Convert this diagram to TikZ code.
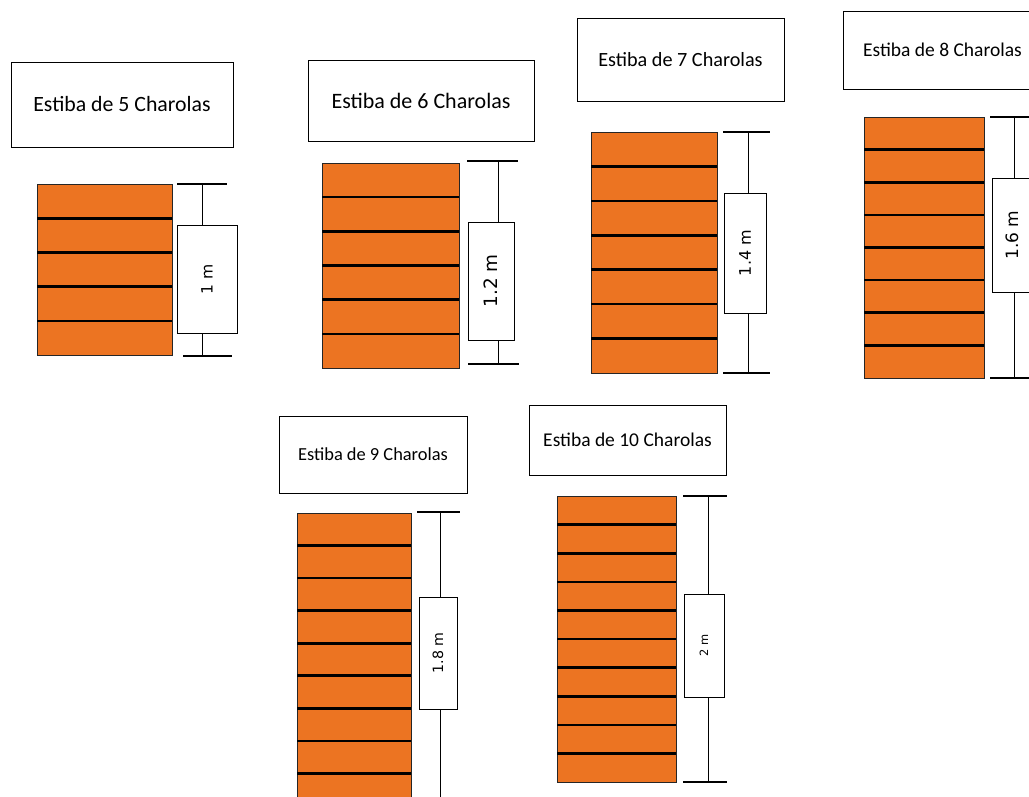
\documentclass[tikz,border=0pt]{standalone}
\usepackage{fontspec}
\newfontfamily\titlefont{Carlito}
\newfontfamily\dimfont{DejaVu Sans}
\definecolor{tray}{RGB}{236,116,34}
\tikzset{
  titlebox/.style={draw, line width=1pt, inner sep=0pt, fill=white},
  dimbox/.style={draw, line width=1pt, inner sep=0pt, fill=white, rotate=90},
  tick/.style={line width=1.2pt},
  dimline/.style={line width=0.8pt},
  sep/.style={line width=2.6pt},
}
\newcommand\stackdraw[5]{% n, x0, x1, y0, y1
  \pgfmathsetmacro\hh{(#5-#4)/#1}
  \foreach \i in {1,...,#1}{%
    \filldraw[fill=tray, draw=black!85, line width=0.7pt] (#2,{#4+(\i-1)*\hh}) rectangle (#3,{#4+\i*\hh});
  }
  \foreach \i in {2,...,#1}{%
    \draw[sep] (#2,{#4+(\i-1)*\hh}) -- (#3,{#4+(\i-1)*\hh});
  }
}
\begin{document}
\begin{tikzpicture}[x=1pt,y=-1pt]
\useasboundingbox (0,0) rectangle (1029,796);
\fill[white] (0,0) rectangle (1029,796);

% ---------- titles
\node[titlebox, minimum width=222, minimum height=85, font=\titlefont\fontsize{21.8}{24}\selectfont] (t5) at (122,104.5) {Estiba de 5 Charolas};
\node[titlebox, minimum width=226, minimum height=81, font=\titlefont\fontsize{22}{24}\selectfont] (t6) at (421,100.5) {Estiba de 6 Charolas};
\node[titlebox, minimum width=207, minimum height=83, font=\titlefont\fontsize{20.2}{22}\selectfont] (t7) at (680.5,59.5) {Estiba de 7 Charolas};
\node[titlebox, minimum width=199, minimum height=78, font=\titlefont\fontsize{19.5}{22}\selectfont] (t8) at (942.5,50) {Estiba de 8 Charolas};
\node[titlebox, minimum width=188, minimum height=77, font=\titlefont\fontsize{18.4}{20}\selectfont] (t9) at (373,454.5) {Estiba de 9 Charolas};
\node[titlebox, minimum width=197, minimum height=70, font=\titlefont\fontsize{19.5}{22}\selectfont] (t10) at (627.5,440) {Estiba de 10 Charolas};

% ---------- stacks
\stackdraw{5}{37}{172}{184}{355}
\stackdraw{6}{322}{459}{163}{368}
\stackdraw{7}{591}{717}{132}{373}
\stackdraw{8}{864}{984}{117}{378}
\stackdraw{9}{297}{411}{513}{806}
\stackdraw{10}{557}{676}{496}{782}

% ---------- dimensions: 5
\coordinate (a5) at (177,184); \coordinate (b5) at (227,184);
\coordinate (c5) at (183,356); \coordinate (e5) at (232,356);
\node[dimbox, minimum width=108, minimum height=60, font=\dimfont\fontsize{15.6}{18}\selectfont] (d5) at (207,279) {1 m};
\draw[tick] (a5) -- (b5);
\draw[tick] (c5) -- (e5);
\draw[dimline] (202,184) -- (202,184 |- d5.east);
\draw[dimline] (202,356) -- (202,356 |- d5.west);

% 6
\coordinate (a6) at (467,161); \coordinate (b6) at (518,161);
\coordinate (c6) at (468,364); \coordinate (e6) at (519,364);
\node[dimbox, minimum width=118, minimum height=46, font=\dimfont\fontsize{18.4}{20}\selectfont] (d6) at (491,281) {1.2 m};
\draw[tick] (a6) -- (b6);
\draw[tick] (c6) -- (e6);
\draw[dimline] (498,161) -- (498,161 |- d6.east);
\draw[dimline] (498,364) -- (498,364 |- d6.west);

% 7
\coordinate (a7) at (723,132); \coordinate (b7) at (770,132);
\coordinate (c7) at (723,373); \coordinate (e7) at (770,373);
\node[dimbox, minimum width=120, minimum height=42, font=\dimfont\fontsize{16}{18}\selectfont] (d7) at (745,253) {1.4 m};
\draw[tick] (a7) -- (b7);
\draw[tick] (c7) -- (e7);
\draw[dimline] (748,132) -- (748,132 |- d7.east);
\draw[dimline] (748,373) -- (748,373 |- d7.west);

% 8
\coordinate (a8) at (990,117); \coordinate (b8) at (1040,117);
\coordinate (c8) at (990,378); \coordinate (e8) at (1040,378);
\node[dimbox, minimum width=114, minimum height=40, font=\dimfont\fontsize{17}{19}\selectfont] (d8) at (1012,235) {1.6 m};
\draw[tick] (a8) -- (b8);
\draw[tick] (c8) -- (e8);
\draw[dimline] (1014,117) -- (1014,117 |- d8.east);
\draw[dimline] (1014,378) -- (1014,378 |- d8.west);

% 9
\coordinate (a9) at (417,512); \coordinate (b9) at (460,512);
\coordinate (c9) at (440,800);
\node[dimbox, minimum width=112, minimum height=38, font=\dimfont\fontsize{14.2}{16}\selectfont] (d9) at (438,653) {1.8 m};
\draw[tick] (a9) -- (b9);
\draw[dimline] (440,512) -- (440,512 |- d9.east);
\draw[dimline] (c9) -- (c9 |- d9.west);

% 10
\coordinate (a10) at (683,496); \coordinate (b10) at (727,496);
\coordinate (c10) at (683,782); \coordinate (e10) at (727,782);
\node[dimbox, minimum width=103, minimum height=40, font=\dimfont\fontsize{11.4}{13}\selectfont] (d10) at (704,645.5) {2 m};
\draw[tick] (a10) -- (b10);
\draw[tick] (c10) -- (e10);
\draw[dimline] (708,496) -- (708,496 |- d10.east);
\draw[dimline] (708,782) -- (708,782 |- d10.west);
\end{tikzpicture}
\end{document}
